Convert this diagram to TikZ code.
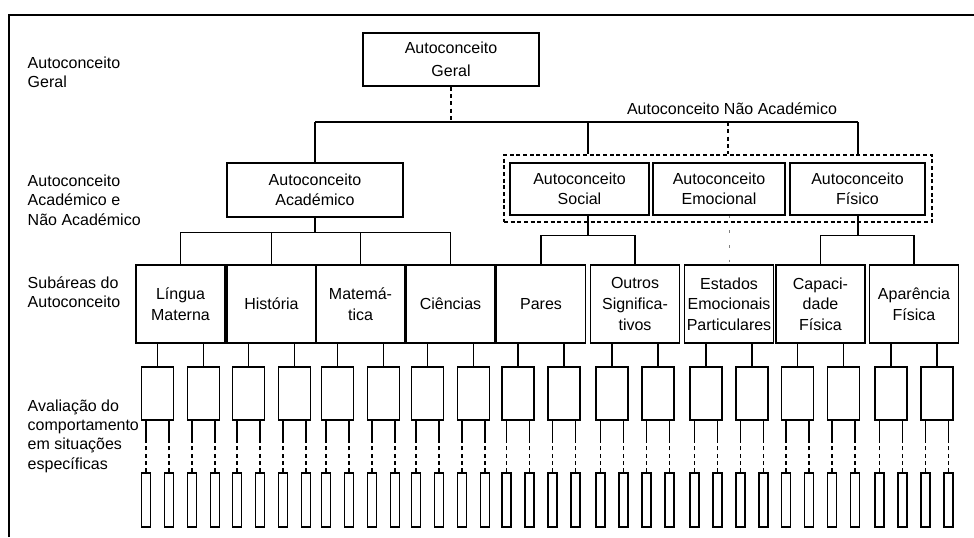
\documentclass[tikz,border=0pt]{standalone}
\usepackage{fontspec}
\setmainfont{Liberation Sans}
\begin{document}
\begin{tikzpicture}[x=0.75pt,y=-0.75pt, line width=1.1pt,
  box/.style={draw, inner sep=0pt, align=center, font=\fontsize{12}{15.4}\selectfont},
  lbl/.style={anchor=west, align=left, inner sep=0pt, font=\fontsize{12}{14.5}\selectfont},
  subbox/.style={box, minimum width=66.75pt, minimum height=58.5pt},
  smallbox/.style={draw, minimum width=24pt, minimum height=39.75pt, inner sep=0pt},
  thinbox/.style={draw, minimum width=6.75pt, minimum height=40.5pt, inner sep=0pt},
  grpbox/.style={draw, dash pattern=on 3pt off 2pt, line width=1.4pt, minimum width=321pt, minimum height=50.25pt, inner sep=0pt},
  dashline/.style={dash pattern=on 3pt off 2.5pt}]

\useasboundingbox (0,0) rectangle (974,537);
\coordinate (fTL) at (9,15); \coordinate (fBL) at (9,537); \coordinate (fTR) at (974,15);
\draw[line width=1.5pt] (fBL) -- (fTL) -- (fTR);

% left labels
\node[lbl] (lg) at (27,72) {Autoconceito\\Geral};
\node[lbl] (la) at (27,200) {Autoconceito\\Académico e\\Não Académico};
\node[lbl] (ls) at (27,292) {Subáreas do\\Autoconceito};
\node[lbl] (lv) at (27,436) {Avaliação do\\comportamento\\em situações\\específicas};

% top
\node[box, minimum width=132pt, minimum height=39.75pt, font=\fontsize{12}{17}\selectfont] (geral) at (451,59.5) {Autoconceito\\Geral};
\coordinate (b1L) at (315,122); \coordinate (b1R) at (858,122);
\coordinate (j1) at (588,122); \coordinate (j2) at (728,122);
\draw (b1L) -- (b1R);
\draw[dashline] (geral.south) -- (geral.south |- b1L);
\node[font=\fontsize{12}{14}\selectfont, inner sep=0pt] (nac) at (732,109) {Autoconceito Não Académico};

% second level
\node[box, minimum width=132pt, minimum height=40.5pt] (acad) at (315,190) {Autoconceito\\Académico};
\draw (b1L) -- (acad.north);
\node[grpbox] (grp) at (718,188.5) {};
\node[box, minimum width=104.25pt, minimum height=39pt] (soc) at (579.5,189) {Autoconceito\\Social};
\node[box, minimum width=99pt, minimum height=39pt] (emo) at (719,189) {Autoconceito\\Emocional};
\node[box, minimum width=101.25pt, minimum height=39pt] (fis) at (857.5,189) {Autoconceito\\Físico};
\draw (j1) -- (j1 |- grp.north);
\draw[dashline, line width=0.8pt] (j2) -- (j2 |- grp.north);
\draw (b1R) -- (b1R |- grp.north);

% subareas
\foreach \n/\c/\t in {1/180.5/{Língua\\Materna}, 2/271.5/{História}, 3/360.5/{Matemá-\\tica}, 4/450.5/{Ciências}, 5/541/{Pares}, 6/635/{Outros\\Significa-\\tivos}, 7/729/{Estados\\Emocionais\\Particulares}, 8/820.5/{Capaci-\\dade\\Física}, 9/914/{Aparência\\Física}}
  \node[subbox] (sub\n) at (\c,304) {\t};

% buses to subareas
\coordinate (ab) at (315,233);
\draw (acad.south) -- (ab);
\draw (sub1.north) -- ++(0,-32) -| (sub4.north);
\draw (sub2.north) -- (sub2.north |- ab);
\draw (sub3.north) -- (sub3.north |- ab);
\coordinate (sj) at (588,236);
\draw (soc.south -| sj) -- (sj);
\draw (sub5.north) -- ++(0,-29) -| (sub6.north);
\coordinate (fj) at (858,236);
\draw (fis.south -| fj) -- (fj);
\draw (sub8.north) -- ++(0,-29) -| (sub9.north);
\draw[gray, line width=0.6pt, dash pattern=on 2pt off 9pt] (sub7.north |- emo.south) -- (sub7.north);

% behaviour level
\foreach \n/\c in {1/180.5, 2/271.5, 3/360.5, 4/450.5, 5/541, 6/635, 7/729, 8/820.5, 9/914} {
  \node[smallbox] (sa\n) at (\c-23,393.5) {};
  \node[smallbox] (sb\n) at (\c+23,393.5) {};
  \draw (sub\n.south -| sa\n) -- (sa\n.north);
  \draw (sub\n.south -| sb\n) -- (sb\n.north);
  \node[thinbox] (tal\n) at (\c-34.5,500) {};
  \node[thinbox] (tar\n) at (\c-11.5,500) {};
  \node[thinbox] (tbl\n) at (\c+11.5,500) {};
  \node[thinbox] (tbr\n) at (\c+34.5,500) {};
  \foreach \s/\t in {sa/tal, sa/tar, sb/tbl, sb/tbr} {
    \draw (\t\n.north |- \s\n.south) -- ++(0,20);
    \draw[dashline] (\t\n.north) -- ++(0,-33);
  }
}
\end{tikzpicture}
\end{document}
